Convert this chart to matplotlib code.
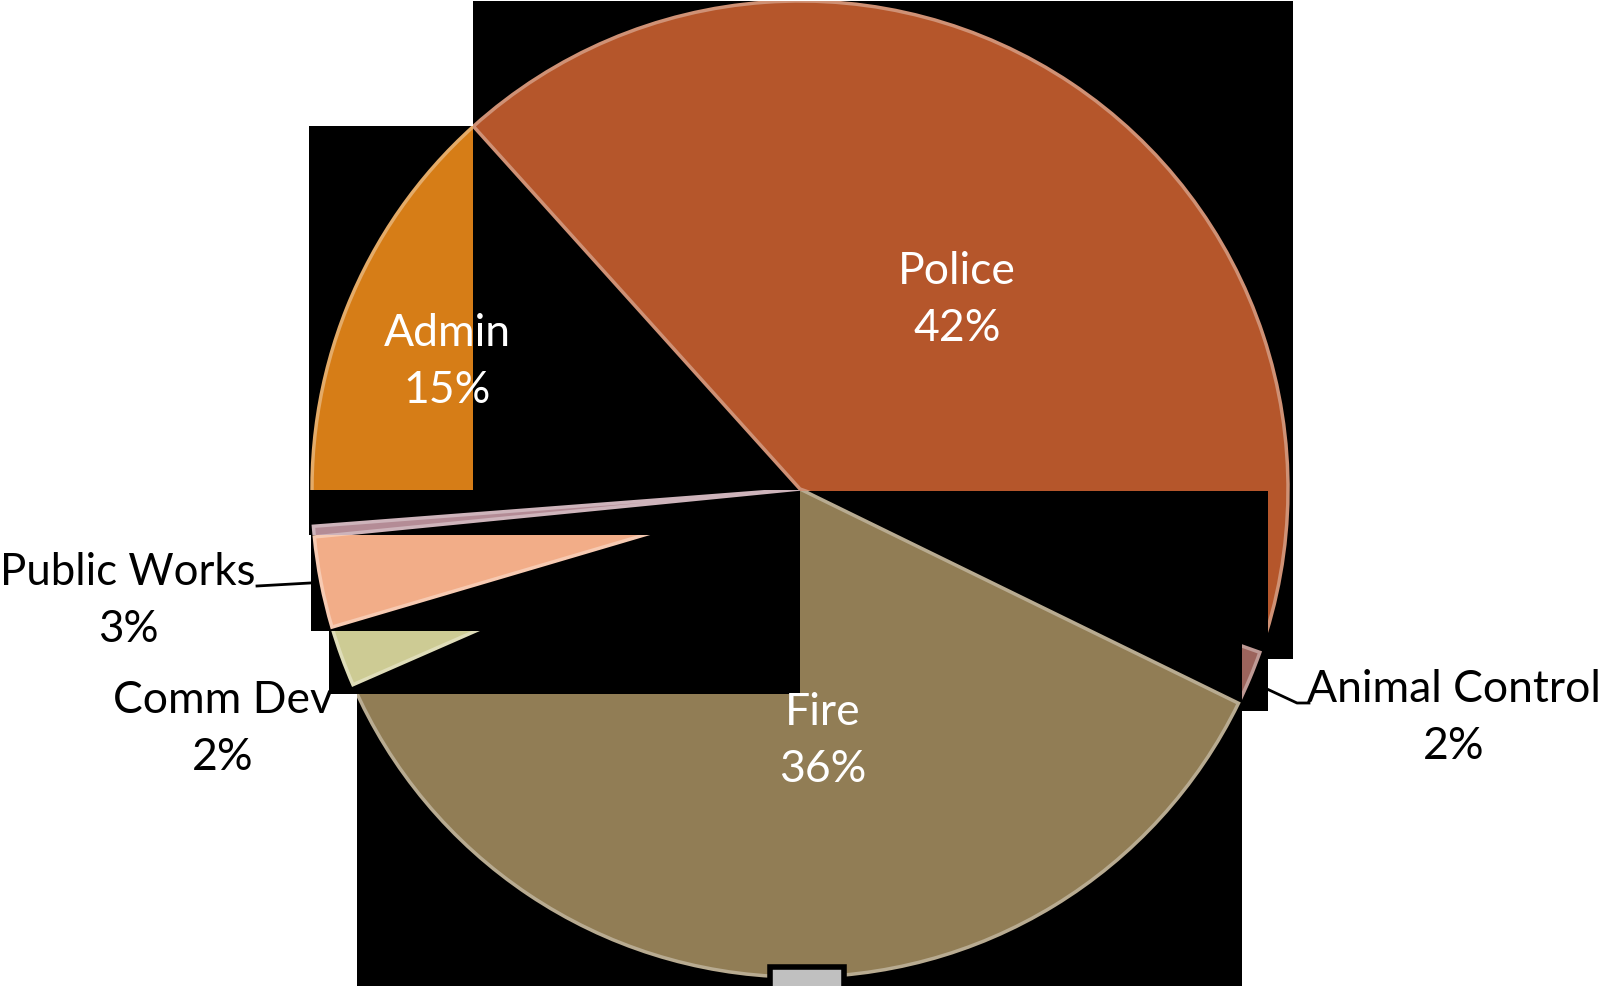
import matplotlib
matplotlib.use("Agg")
import matplotlib.pyplot as plt
import matplotlib.patches as patches
from matplotlib.colors import to_rgb

# datos del grafico
categorias = ["Police", "Animal Control", "Fire", "Comm Dev", "Public Works", "Other", "Admin"]
valores = [42.1, 1.8, 36.2, 2.0, 3.0, 0.35, 14.55]
etiquetas_pct = ["42%", "2%", "36%", "2%", "3%", "", "15%"]
colores = ["#B5562B", "#9C645C", "#917D55", "#CDCB94", "#F2AD88", "#B48C96", "#D67D17"]

W, H = 1613, 987
CX, CY, R = 800, 490, 488


def py(y):
    # pixel (desde arriba) -> coordenada del eje
    return H - y


def aclarar(c, f=0.35):
    r, g, b = to_rgb(c)
    return (r + (1 - r) * f, g + (1 - g) * f, b + (1 - b) * f)


fig = plt.figure(figsize=(W / 100, H / 100), dpi=100)
fig.patch.set_facecolor("white")
ax = fig.add_axes([0, 0, 1, 1])

# bloques negros (artefactos del render original): x0, y0, x1, y1, porcion visible
bloques = [
    (473, 2, 1293, 660, "Police"),
    (309, 127, 473, 492, "Admin"),
    (309, 491, 800, 536, "Other"),
    (311, 536, 800, 632, "Public Works"),
    (329, 632, 800, 695, "Comm Dev"),
    (800, 492, 1242, 712, "Fire"),
    (1242, 492, 1268, 712, "Animal Control"),
    (357, 695, 1242, 987, "Fire"),
]

for x0, y0, x1, y1, nombre in bloques:
    rect = patches.Rectangle((x0, py(y1)), x1 - x0, y1 - y0,
                             facecolor="black", edgecolor="none")
    ax.add_patch(rect)
    cuñas, _ = ax.pie(valores, colors=colores, startangle=132, counterclock=False,
                      center=(CX, py(CY)), radius=R,
                      wedgeprops=dict(linewidth=2.5))
    for w, cat, col in zip(cuñas, categorias, colores):
        if cat != nombre:
            w.set_visible(False)
        else:
            w.set_edgecolor(aclarar(col))
            w.set_clip_on(True)
            w.set_clip_path(rect)

ax.set_xlim(0, W)
ax.set_ylim(0, H)
ax.set_aspect("equal")
ax.axis("off")

# cuadro gris abajo
ax.add_patch(patches.Rectangle((770, py(987) - 5), 74, 24, facecolor="#C0C0C0",
                               edgecolor="black", linewidth=4, zorder=5))

fuente = dict(family="Lato", fontsize=32, linespacing=1.5, ha="center", va="center", zorder=10)

# etiquetas dentro
ax.text(957, py(300), "Police\n42%", color="white", **fuente)
ax.text(447, py(362), "Admin\n15%", color="white", **fuente)
ax.text(823, py(741), "Fire\n36%", color="white", **fuente)

# etiquetas fuera con lineas guia
ax.text(128, py(601), "Public Works\n3%", color="black", **dict(fuente, fontsize=31.5))
ax.text(223, py(729), "Comm Dev\n2%", color="black", **fuente)
ax.text(1454, py(718), "Animal Control\n2%", color="black", **fuente)
ax.plot([257, 310], [py(587), py(584)], color="black", lw=2, zorder=10)
ax.plot([1267, 1297, 1309], [py(690), py(704), py(704)], color="black", lw=2, zorder=10)

fig.savefig("out.png", dpi=100, facecolor="white")
